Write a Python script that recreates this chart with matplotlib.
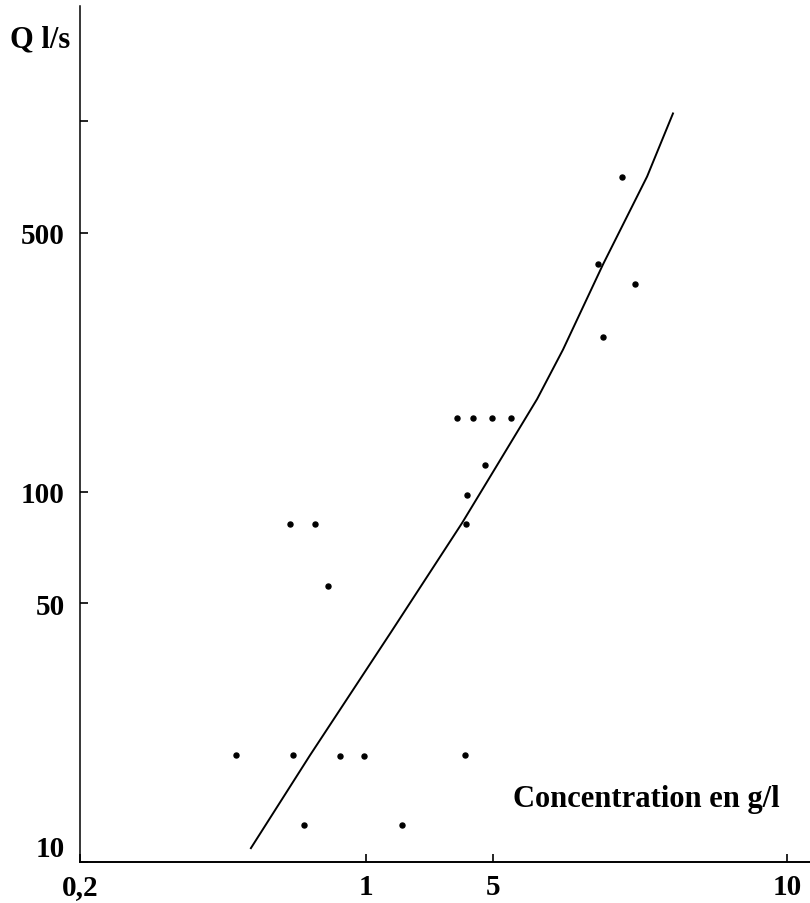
import numpy as np
import matplotlib
matplotlib.use("Agg")
import matplotlib.pyplot as plt

plt.rcParams['font.family'] = ['Liberation Serif', 'DejaVu Serif']
plt.rcParams['font.weight'] = 'bold'

# points mesures (concentration g/l, debit l/s)
conc = [3.87, 4.37, 4.97, 5.31, 4.75, 4.18, 4.15, 0.787, 0.857, 0.894,
        0.636, 0.796, 0.927, 0.994, 4.12, 0.827, 2.13,
        7.19, 6.79, 7.41, 6.87]
debit = [158, 158, 158, 158, 118, 98, 82, 82, 82, 55.6,
         19.4, 19.4, 19.3, 19.3, 19.4, 12.6, 12.6,
         710, 411, 365, 261]

# courbe d'ajustement
curve_c = [0.678, 0.843, 1.79, 4.02, 5.07, 5.75, 6.19, 6.87, 7.62, 8.06]
curve_q = [10.9, 19.4, 41.8, 82.2, 118, 178, 242, 411, 710, 1051]

x_ticks = [0.2, 1, 5, 10]
x_labels = ["0,2", "1", "5", "10"]
y_ticks = [10, 50, 100, 500, 1000]
y_labels = ["10", "50", "100", "500", ""]

# echelle x irreguliere du document original
sc_val = np.array([0.1, 0.2, 1, 5, 10, 20])
sc_pos = np.array([-36, 0, 286, 413, 707, 1295])


def fwd(v):
    return np.interp(v, sc_val, sc_pos)


def inv(p):
    return np.interp(p, sc_pos, sc_val)


fig = plt.figure(figsize=(8.1, 9.04), dpi=100)
ax = fig.add_axes([80 / 810, 41 / 904, 730 / 810, 856 / 904])
ax.set_xscale('function', functions=(fwd, inv))
ax.set_yscale('log')

ax.plot(curve_c, curve_q, color='black', lw=1.4)
ax.plot(conc, debit, 'o', color='black', ms=3.6, ls='none')

ax.set_xlim(0.2, 10.39)
ax.set_ylim(10, 2050)

ax.set_xticks(x_ticks)
ax.set_xticklabels(x_labels)
ax.set_yticks(y_ticks)
ax.set_yticklabels(y_labels)
ax.yaxis.set_minor_locator(matplotlib.ticker.NullLocator())
ax.xaxis.set_minor_locator(matplotlib.ticker.NullLocator())

for s in ['top', 'right']:
    ax.spines[s].set_visible(False)
ax.spines['left'].set_linewidth(1.1)
ax.spines['bottom'].set_linewidth(1.4)

ax.tick_params(axis='both', direction='in', length=6, width=1.2, labelsize=21)
ax.tick_params(axis='y', pad=11)
ax.tick_params(axis='x', pad=8)
ax.get_yticklabels()[0].set_verticalalignment('bottom')

fig.text(10 / 810, 1 - 40 / 904, "Q l/s", fontsize=22, fontweight='bold',
         va='center', ha='left')
fig.text(780 / 810, 1 - 800 / 904, "Concentration en g/l", fontsize=22,
         fontweight='bold', va='center', ha='right')

fig.savefig("out.png", dpi=100)
